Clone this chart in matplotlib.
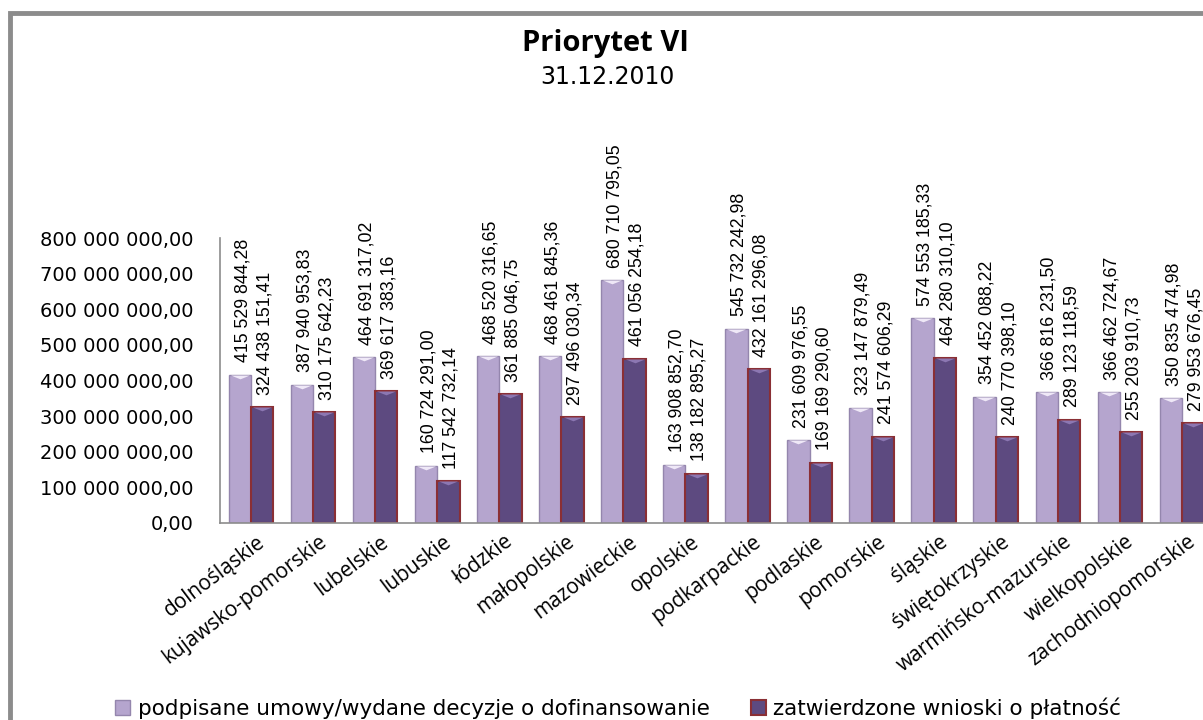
import numpy as np
import matplotlib
matplotlib.use('Agg')
import matplotlib.pyplot as plt
from matplotlib.patches import Patch, Rectangle

# Regions (categories)
regions = ['dolnośląskie', 'kujawsko-pomorskie', 'lubelskie', 'lubuskie', 'łódzkie',
           'małopolskie', 'mazowieckie', 'opolskie', 'podkarpackie', 'podlaskie',
           'pomorskie', 'śląskie', 'świętokrzyskie', 'warmińsko-mazurskie',
           'wielkopolskie', 'zachodniopomorskie']

# podpisane umowy / wydane decyzje o dofinansowanie
signed = [415529844.28, 387940953.83, 464691317.02, 160724291.00, 468520316.65,
          468461845.36, 680710795.05, 163908852.70, 545732242.98, 231609976.55,
          323147879.49, 574553185.33, 354452088.22, 366816231.50, 366462724.67,
          350835474.98]

# zatwierdzone wnioski o płatność
approved = [324438151.41, 310175642.23, 369617383.16, 117542732.14, 361885046.75,
            297496030.34, 461056254.18, 138182895.27, 432161296.08, 169169290.60,
            241574606.29, 464280310.10, 240770398.10, 289123118.59, 255203910.73,
            279953676.45]

yticks = [0, 100e6, 200e6, 300e6, 400e6, 500e6, 600e6, 700e6, 800e6]

series_names = ['podpisane umowy/wydane decyzje o dofinansowanie',
                'zatwierdzone wnioski o płatność']


def pl_number(v):
    """Polish number format: spaces as thousands separator, comma decimal."""
    return f"{v:,.2f}".replace(',', ' ').replace('.', ',')


def main():
    W, H = 1203, 720
    fig = plt.figure(figsize=(W / 100, H / 100), dpi=100)

    # outer chart frame (only left and top visible, the rest is cut off)
    fig.patches.append(Rectangle((10 / W, -0.2), 1.5, (720 - 13) / H + 0.2,
                                 transform=fig.transFigure, fill=False,
                                 edgecolor='#8c8c8c', linewidth=3.5))

    ax = fig.add_axes([220 / W, (H - 523) / H, (1213 - 220) / W, (523 - 238) / H])

    x = np.arange(len(regions))
    w = 0.36
    light_face, light_edge = '#b5a5ce', '#9486ad'
    dark_face, dark_edge = '#5d4a80', '#8a2f35'

    ax.bar(x - w / 2, signed, w, color=light_face, edgecolor=light_edge, linewidth=1.0, zorder=2)
    ax.bar(x + w / 2, approved, w, color=dark_face, edgecolor=dark_edge, linewidth=1.5, zorder=2)

    # bevel highlight on top of each bar
    bevel = [(-1, 0), (1, 0), (0, -0.4)]
    ax.scatter(x - w / 2, signed, marker=bevel, s=190, color='#efe8f7', linewidths=0, zorder=3)
    ax.scatter(x + w / 2, approved, marker=bevel, s=190, color='#8c77b2', linewidths=0, zorder=3)

    # data labels
    lab_font = dict(family=['Liberation Sans', 'DejaVu Sans'], fontsize=12.8)
    for xi, v in zip(x - w / 2, signed):
        ax.annotate(pl_number(v), (xi, v), xytext=(2, 9), textcoords='offset points',
                    rotation=90, ha='center', va='bottom', **lab_font)
    for xi, v in zip(x + w / 2, approved):
        ax.annotate(pl_number(v), (xi, v), xytext=(2, 9), textcoords='offset points',
                    rotation=90, ha='center', va='bottom', **lab_font)

    ax.set_xlim(-0.5, len(regions) - 0.5)
    ax.set_ylim(0, 800e6)
    ax.set_yticks(yticks)
    ax.set_yticklabels([pl_number(v) for v in yticks], fontsize=14, family='DejaVu Sans')
    ax.tick_params(axis='y', length=0, pad=19)

    ax.set_xticks(x + 0.08)
    ax.set_xticklabels(regions, rotation=37, ha='right', va='top', rotation_mode='anchor',
                       fontsize=15, family=['Open Sans', 'DejaVu Sans'])
    ax.tick_params(axis='x', length=0, pad=6)

    for side in ('top', 'right'):
        ax.spines[side].set_visible(False)
    for side in ('left', 'bottom'):
        ax.spines[side].set_color('#8c8c8c')
        ax.spines[side].set_linewidth(1.2)

    # title
    fig.text(605 / W, 1 - 44 / H, 'Priorytet VI', ha='center', va='center',
             fontsize=21, fontweight='bold', family=['Open Sans', 'DejaVu Sans'])
    fig.text(607 / W, 1 - 77 / H, '31.12.2010', ha='center', va='center',
             fontsize=17, family='DejaVu Sans')

    handles = [Patch(facecolor=light_face, edgecolor=light_edge, linewidth=1.0),
               Patch(facecolor=dark_face, edgecolor=dark_edge, linewidth=1.5)]
    fig.legend(handles, series_names, loc='center left',
               bbox_to_anchor=(96 / W, 1 - 708 / H), ncol=2, frameon=False,
               handlelength=0.7, handleheight=0.7, handletextpad=0.35,
               columnspacing=1.9, prop=dict(family='DejaVu Sans', size=15.5))

    fig.savefig('out.png', dpi=100)


if __name__ == "__main__":
    main()
